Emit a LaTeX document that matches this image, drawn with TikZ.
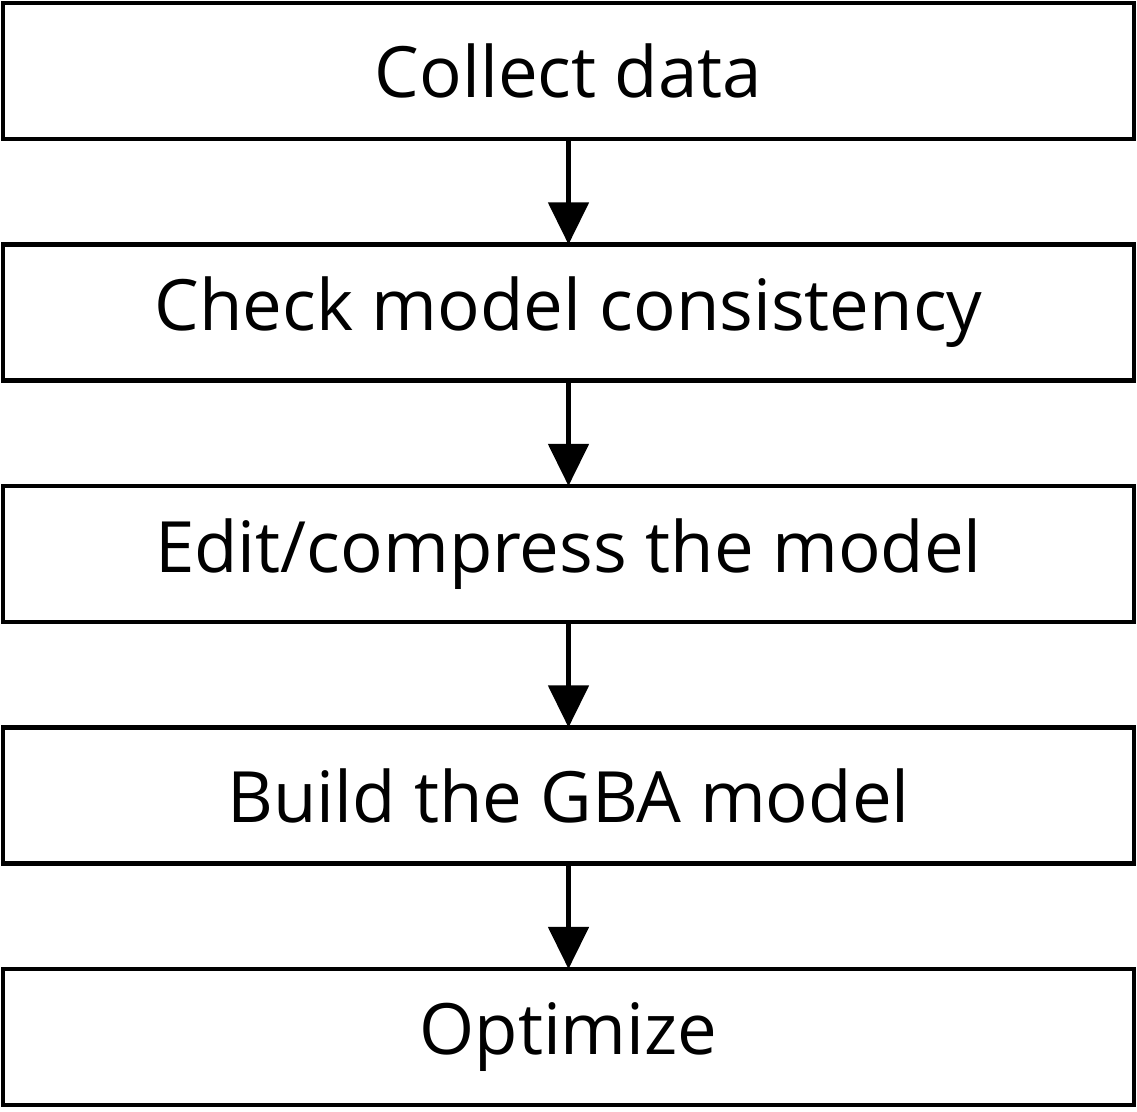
\documentclass[tikz,border=0pt]{standalone}
\usepackage{fontspec}
\setmainfont{Open Sans}
\usetikzlibrary{positioning, arrows.meta}

\tikzset{
  stepbox/.style={draw, line width=2.3pt, minimum width=565.5pt, minimum height=68pt,
    inner sep=0pt, outer sep=0pt, font=\fontsize{35.4}{42}\selectfont},
  flow/.style={line width=2.3pt, -{Triangle[length=21pt, width=20pt]}}
}

\begin{document}
\begin{tikzpicture}
  % Fix the page to the reference size
  \useasboundingbox (0,0) rectangle (568.5pt,-556pt);

  % Draw the steps, top to bottom
  \node[stepbox] (collect) at (284.25pt,-35.5pt) {Collect data};
  \node[stepbox, below=52.75pt of collect] (check) {Check model consistency};
  \node[stepbox, below=52.75pt of check] (edit) {Edit/compress the model};
  \node[stepbox, below=52.75pt of edit] (build) {Build the GBA model};
  \node[stepbox, below=52.75pt of build] (optimize) {Optimize};

  % Connect the steps
  \draw[flow] (collect) -- (check);
  \draw[flow] (check) -- (edit);
  \draw[flow] (edit) -- (build);
  \draw[flow] (build) -- (optimize);

\end{tikzpicture}
\end{document}
